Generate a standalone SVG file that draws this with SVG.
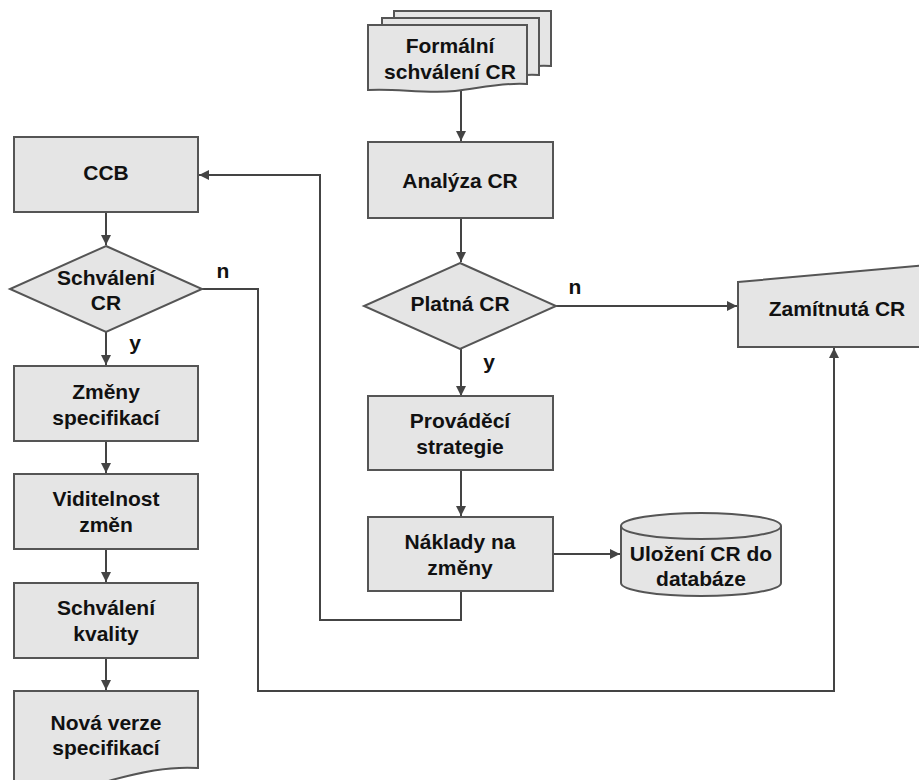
<svg xmlns="http://www.w3.org/2000/svg" width="919" height="780" viewBox="0 0 919 780">
<style>
.s{fill:#e5e5e5;stroke:#555;stroke-width:2}
.t{font-family:"Liberation Sans",Arial,sans-serif;font-weight:bold;font-size:21px;fill:#111;text-anchor:middle;dominant-baseline:central}
.c{fill:none;stroke:#444;stroke-width:2}
</style>
<defs>
<marker id="a" viewBox="0 0 10 10" refX="10" refY="5" markerWidth="10" markerHeight="10" markerUnits="userSpaceOnUse" orient="auto">
<path d="M0,0 L10,5 L0,10 z" fill="#444"/>
</marker>
</defs>
<rect width="919" height="780" fill="#fff"/>
<g id="connectors">
<path class="c" d="M461,88 V141" marker-end="url(#a)"/>
<path class="c" d="M461,218 V262" marker-end="url(#a)"/>
<path class="c" d="M461,349 V396" marker-end="url(#a)"/>
<path class="c" d="M461,470 V516" marker-end="url(#a)"/>
<path class="c" d="M553,554 H620" marker-end="url(#a)"/>
<path class="c" d="M461,591 V620 H320 V175 H199" marker-end="url(#a)"/>
<path class="c" d="M556,306 H737" marker-end="url(#a)"/>
<path class="c" d="M106,212 V245" marker-end="url(#a)"/>
<path class="c" d="M106,332 V365" marker-end="url(#a)"/>
<path class="c" d="M106,441 V473" marker-end="url(#a)"/>
<path class="c" d="M106,549 V582" marker-end="url(#a)"/>
<path class="c" d="M106,658 V690" marker-end="url(#a)"/>
<path class="c" d="M202,289 H258 V691 H834 V348" marker-end="url(#a)"/>
<text class="t" x="223" y="270">n</text>
<text class="t" x="135" y="342">y</text>
<text class="t" x="575" y="286">n</text>
<text class="t" x="489" y="361">y</text>
</g>
<g id="formalni">
<path class="s" d="M394,11 H551 V66 C530,64 505,70 480,73 C450,76 420,70 394,72 Z"/>
<path class="s" d="M382,18 H539 V75 C518,73 493,79 468,82 C438,85 408,79 382,81 Z"/>
<path class="s" d="M368,25 H527 V84 C505,82 480,88 455,91 C425,94 395,88 368,90 Z"/>
<text class="t" x="450" y="45">Formální</text>
<text class="t" x="450" y="71">schválení CR</text>
</g>
<g id="analyza">
<rect class="s" x="368" y="142" width="185" height="76"/>
<text class="t" x="460" y="180">Analýza CR</text>
</g>
<g id="platna">
<path class="s" d="M460,263 L556,306 L460,349 L364,306 Z"/>
<text class="t" x="460" y="303">Platná CR</text>
</g>
<g id="provadeci">
<rect class="s" x="368" y="396" width="185" height="74"/>
<text class="t" x="460" y="420">Prováděcí</text>
<text class="t" x="460" y="446">strategie</text>
</g>
<g id="naklady">
<rect class="s" x="368" y="517" width="185" height="74"/>
<text class="t" x="460" y="541">Náklady na</text>
<text class="t" x="460" y="567">změny</text>
</g>
<g id="ulozeni">
<path class="s" d="M621,526 V583 A80,13 0 0 0 781,583 V526"/>
<ellipse class="s" cx="701" cy="526" rx="80" ry="13"/>
<text class="t" x="701" y="553">Uložení CR do</text>
<text class="t" x="701" y="578">databáze</text>
</g>
<g id="zamitnuta">
<path class="s" d="M738,282 L938,264 V347 H738 Z"/>
<text class="t" x="837" y="308">Zamítnutá CR</text>
</g>
<g id="ccb">
<rect class="s" x="14" y="137" width="184" height="75"/>
<text class="t" x="106" y="172">CCB</text>
</g>
<g id="schvaleni">
<path class="s" d="M106,246 L202,289 L106,332 L10,289 Z"/>
<text class="t" x="106" y="277">Schválení</text>
<text class="t" x="106" y="302">CR</text>
</g>
<g id="zmeny">
<rect class="s" x="14" y="366" width="184" height="75"/>
<text class="t" x="106" y="391">Změny</text>
<text class="t" x="106" y="417">specifikací</text>
</g>
<g id="viditelnost">
<rect class="s" x="14" y="474" width="184" height="75"/>
<text class="t" x="106" y="498">Viditelnost</text>
<text class="t" x="106" y="524">změn</text>
</g>
<g id="kvalita">
<rect class="s" x="14" y="583" width="184" height="75"/>
<text class="t" x="106" y="607">Schválení</text>
<text class="t" x="106" y="633">kvality</text>
</g>
<g id="nova">
<path class="s" d="M14,691 H198 V768 C170,766 140,772 112,780 C80,790 40,786 14,788 Z"/>
<text class="t" x="106" y="722">Nová verze</text>
<text class="t" x="106" y="747">specifikací</text>
</g>
</svg>
